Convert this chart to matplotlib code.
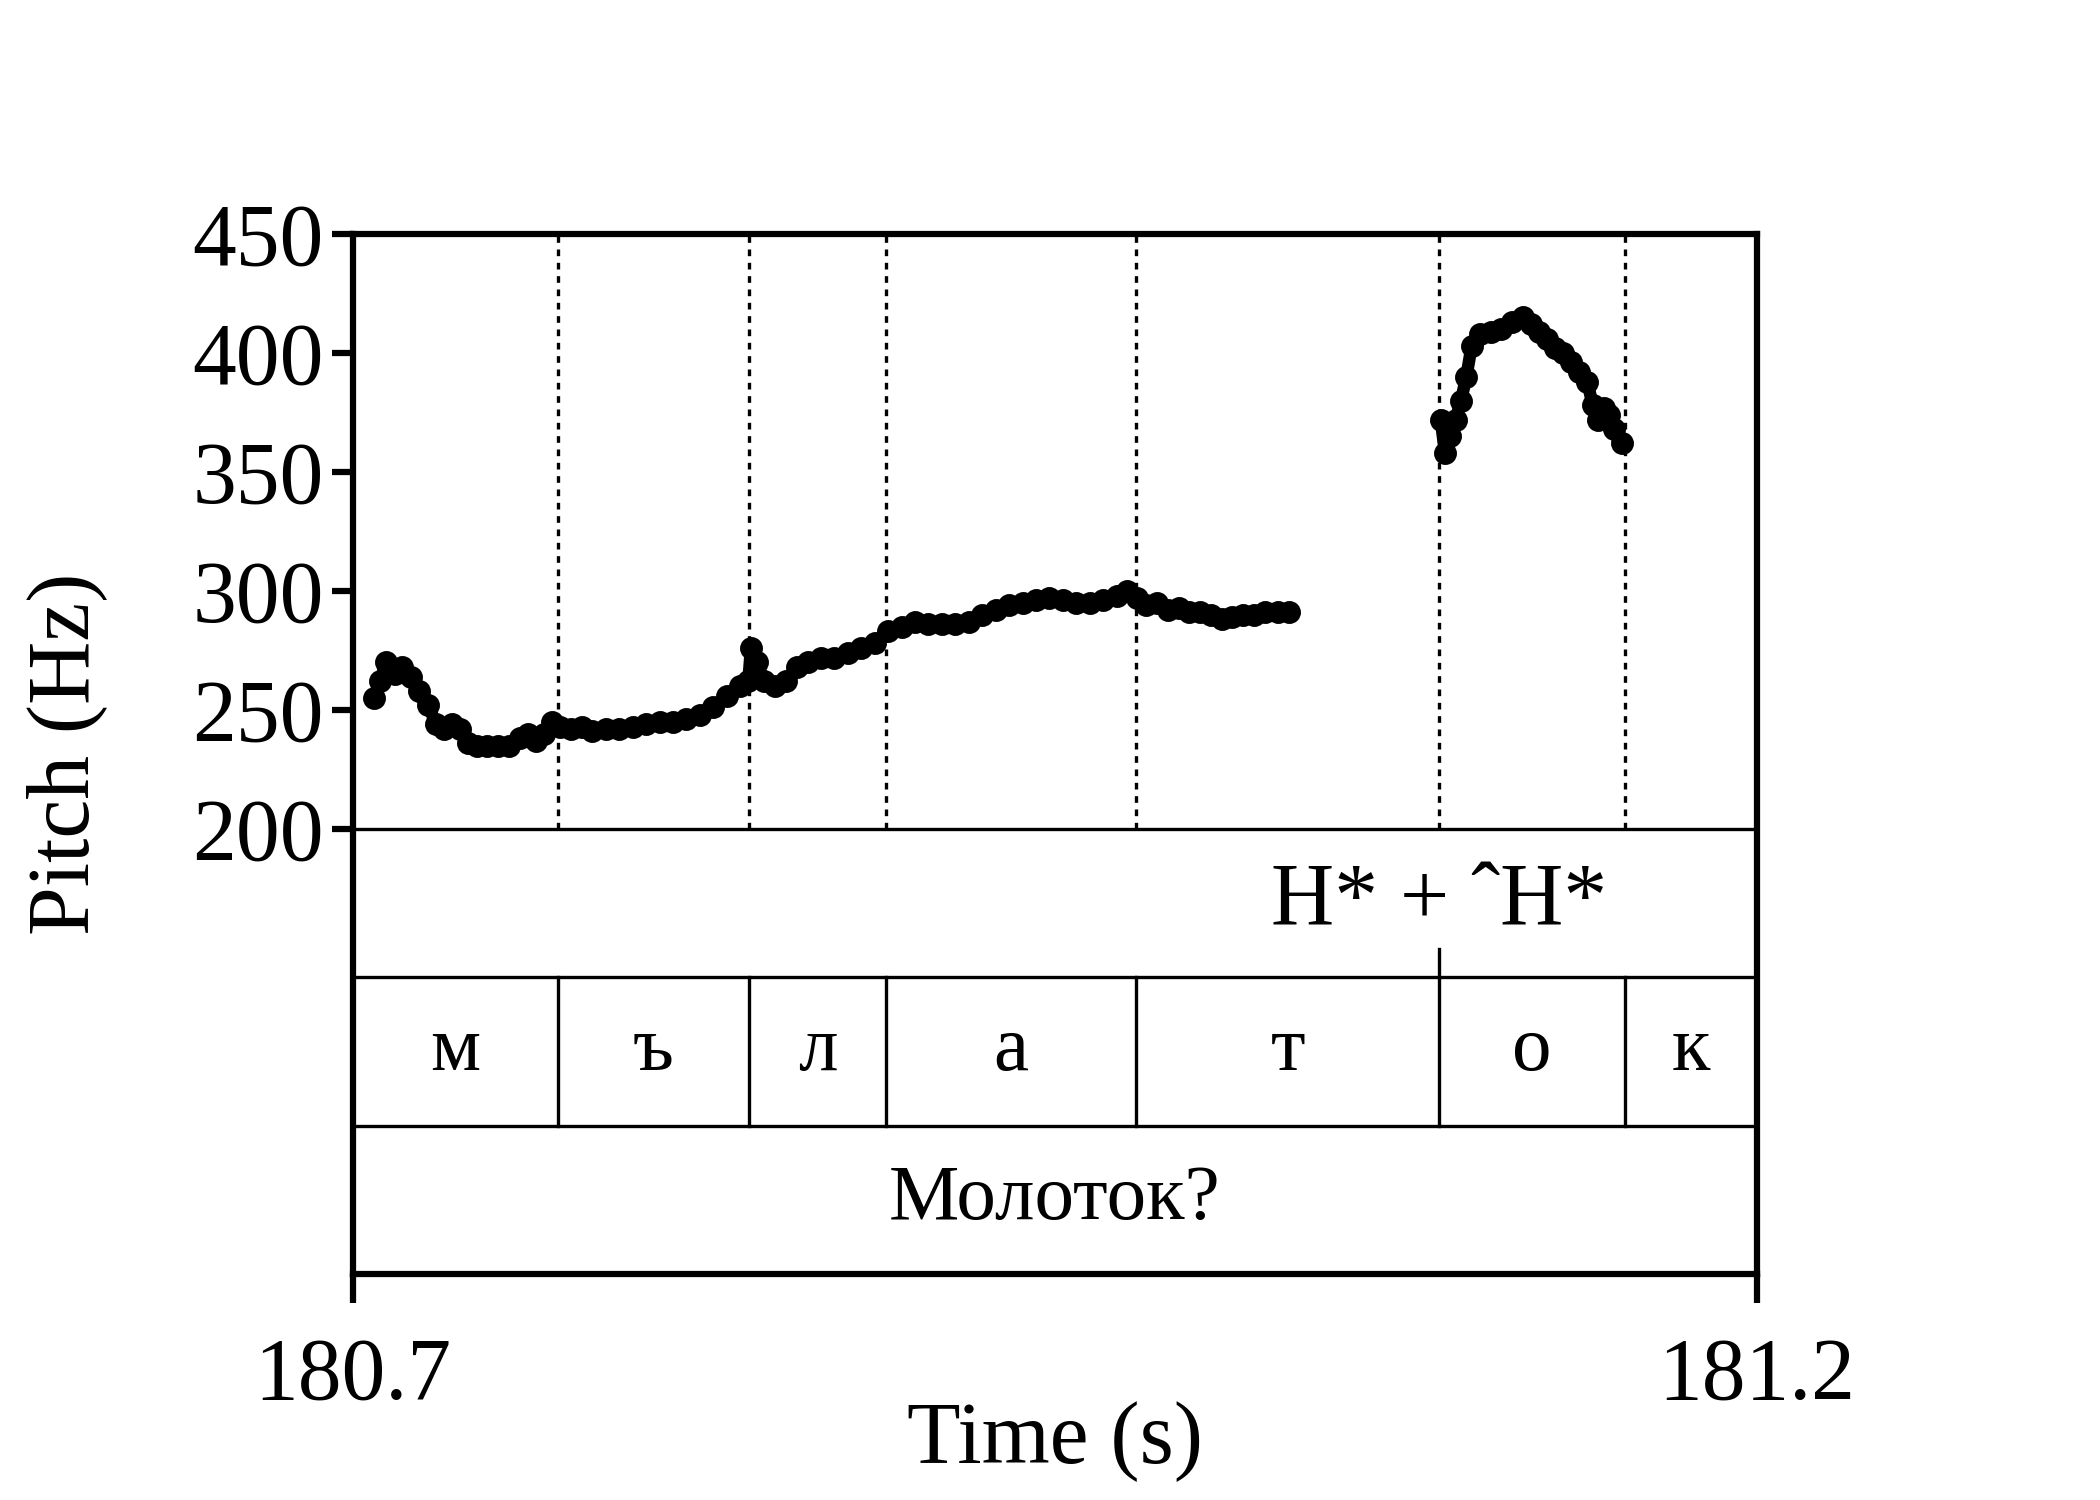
import numpy as np
import matplotlib.pyplot as plt

plt.rcParams['font.family'] = ['Liberation Serif', 'DejaVu Serif']

# pitch track, time (s) and f0 (Hz)
t1 = 180.7 + np.array([.0077, .0096, .0120, .0149, .0177, .0206, .0235, .0268, .0297, .0326,
      .0355, .0383, .0412, .0441, .0479, .0518, .0556, .0594, .0623, .0652,
      .0680, .0709, .0738, .0776, .0815, .0853, .0901, .0949, .0997, .1045,
      .1093, .1141, .1188, .1236, .1284, .1332, .1380, .1409, .1418, .1438,
      .1466, .1504, .1543, .1581, .1620, .1668, .1715, .1763, .1811, .1859,
      .1907, .1955, .2003, .2050, .2098, .2146, .2194, .2242, .2290, .2338,
      .2386, .2433, .2481, .2529, .2577, .2625, .2673, .2721, .2759, .2793,
      .2826, .2865, .2903, .2941, .2980, .3018, .3056, .3094, .3133, .3171,
      .3209, .3248, .3296, .3334])
f1 = [255, 262, 270, 265, 268, 264, 258, 252, 244, 242,
      244, 242, 236, 235, 235, 235, 235, 238, 240, 237,
      240, 245, 243, 242, 243, 241, 242, 242, 243, 244,
      245, 245, 246, 248, 251, 256, 260, 262, 276, 270,
      262, 260, 262, 268, 270, 272, 272, 274, 276, 278,
      283, 285, 287, 286, 286, 286, 287, 290, 292, 294,
      295, 296, 297, 296, 295, 295, 296, 298, 300, 297,
      294, 295, 292, 293, 291, 291, 290, 288, 289, 290,
      290, 291, 291, 291]
t2 = 180.7 + np.array([.3875, .3890, .3909, .3928, .3947, .3966, .3985, .4014, .4053, .4091,
      .4129, .4167, .4196, .4225, .4254, .4283, .4311, .4340, .4369, .4397,
      .4416, .4436, .4455, .4474, .4493, .4522])
f2 = [372, 358, 365, 372, 380, 390, 403, 408, 409, 410,
      413, 415, 412, 409, 406, 402, 400, 396, 392, 388,
      378, 372, 377, 374, 368, 362]

bounds = [180.773, 180.841, 180.890, 180.979, 181.087, 181.153]
segments = ['м', 'ъ', 'л', 'а', 'т', 'о', 'к']
tone_label = 'H* + ˆH*'
tone_time = 181.087
word = 'Молоток?'

t0, tend = 180.7, 181.2
ymin, ymax = 200, 450
tier_h = 62.4
bottom = ymin - 3 * tier_h

fig = plt.figure(figsize=(7, 5), dpi=300)
ax = fig.add_axes([0.168, 0.1505, 0.6685, 0.6935])

for t, f in [(t1, f1), (t2, f2)]:
    ax.plot(t, f, 'o-', color='black', ms=4.5, lw=3)

edges = [t0] + bounds + [tend]
for b in bounds:
    ax.plot([b, b], [ymin, ymax], ls=(0, (2, 2)), color='black', lw=0.8)
    ax.plot([b, b], [ymin - 2 * tier_h, ymin - tier_h], color='black', lw=0.8)
for k in range(0, 3):
    ax.axhline(ymin - k * tier_h, color='black', lw=0.8)

ax.plot([tone_time, tone_time], [ymin - tier_h, ymin - tier_h + 12], color='black', lw=0.8)
ax.text(tone_time, ymin - 0.5 * tier_h, tone_label, ha='center', va='center', fontsize=21)
for i, s in enumerate(segments):
    ax.text((edges[i] + edges[i + 1]) / 2, ymin - 1.5 * tier_h, s,
            ha='center', va='center', fontsize=19)
ax.text((t0 + tend) / 2, ymin - 2.5 * tier_h, word, ha='center', va='center', fontsize=19)

ax.set_xlim(t0, tend)
ax.set_ylim(bottom, ymax)
ax.set_yticks([200, 250, 300, 350, 400, 450])
ax.set_xticks([180.7, 181.2])
ax.set_xticklabels(['180.7', '181.2'])
ax.tick_params(axis='both', labelsize=21, width=1.5, length=5, direction='out')
ax.tick_params(axis='x', pad=8, length=7)
ax.tick_params(axis='y', pad=2)
for sp in ax.spines.values():
    sp.set_linewidth(1.5)
ax.set_ylabel('Pitch (Hz)', fontsize=21)
ax.yaxis.set_label_coords(-0.175, 0.5)
ax.set_xlabel('Time (s)', fontsize=21, labelpad=-4)

fig.savefig('out.png', dpi=300)
